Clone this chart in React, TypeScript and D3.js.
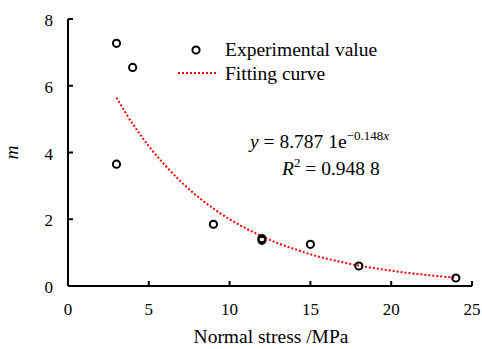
import React from "react";
import * as d3 from "d3";

const stressX = [3, 4, 3, 9, 12, 12, 15, 18, 24];
const mValues = [7.27, 6.55, 3.65, 1.85, 1.42, 1.37, 1.25, 0.6, 0.24];
const curveX = [3, 4, 5, 6, 7, 8, 9, 10, 11, 12, 13, 14, 15, 16, 17, 18, 19, 20, 21, 22, 23, 24];
const curveY = [5.64, 4.86, 4.19, 3.62, 3.12, 2.69, 2.32, 2.0, 1.73, 1.49, 1.28, 1.11, 0.95, 0.82, 0.71, 0.61, 0.53, 0.46, 0.39, 0.34, 0.29, 0.25];
const xTicks = [0, 5, 10, 15, 20, 25];
const yTicks = [0, 2, 4, 6, 8];

const FONT = "Liberation Serif, Times New Roman, serif";

export default function App() {
  const W = 482, H = 349;
  const x = d3.scaleLinear().domain([0, 25]).range([68, 472]);
  const y = d3.scaleLinear().domain([0, 8]).range([286, 19]);
  const line = d3
    .line<number>()
    .x((_, i) => x(curveX[i]))
    .y((d) => y(d))
    .curve(d3.curveCatmullRom);
  return (
    <svg width={W} height={H} style={{ position: "absolute", left: 0, top: 0, background: "#fff", fontFamily: FONT }}>
      {/* axes */}
      <line x1={x(0)} x2={x(25)} y1={y(0)} y2={y(0)} stroke="#000" strokeWidth={2} />
      <line x1={x(0)} x2={x(0)} y1={y(0)} y2={y(8)} stroke="#000" strokeWidth={2} />
      {xTicks.map((t) => (
        <g key={"x" + t}>
          <line x1={x(t)} x2={x(t)} y1={y(0)} y2={y(0) - 5} stroke="#000" strokeWidth={2} />
          <text x={x(t)} y={y(0) + 29} textAnchor="middle" fontSize={17} fontFamily={FONT}>{t}</text>
        </g>
      ))}
      {yTicks.map((t) => (
        <g key={"y" + t}>
          <line x1={x(0)} x2={x(0) + 5} y1={y(t)} y2={y(t)} stroke="#000" strokeWidth={2} />
          <text x={x(0) - 15} y={y(t) + 7} textAnchor="end" fontSize={17} fontFamily={FONT}>{t}</text>
        </g>
      ))}
      {/* fitting curve */}
      <path d={line(curveY) || ""} fill="none" stroke="#ff0000" strokeWidth={2} strokeDasharray="2,2" />
      {/* points */}
      {mValues.map((v, i) => (
        <circle key={i} cx={x(stressX[i])} cy={y(v)} r={3.6} fill="none" stroke="#000" strokeWidth={2} />
      ))}
      {/* legend */}
      <circle cx={196} cy={50} r={3.6} fill="none" stroke="#000" strokeWidth={2} />
      <text x={225} y={56} fontSize={19.5} fontFamily={FONT}>Experimental value</text>
      <line x1={178} x2={217} y1={73} y2={73} stroke="#ff0000" strokeWidth={2} strokeDasharray="2,2" />
      <text x={225} y={80} fontSize={19.5} fontFamily={FONT}>Fitting curve</text>
      {/* equation */}
      <text x={250} y={148} fontSize={19.5} fontFamily={FONT}>
        <tspan fontStyle="italic">y</tspan>
        <tspan> = 8.787 1e</tspan>
        <tspan fontSize={13} dy={-8}>−0.148</tspan>
        <tspan fontSize={13} fontStyle="italic">x</tspan>
      </text>
      <text x={282} y={175} fontSize={19.5} fontFamily={FONT}>
        <tspan fontStyle="italic">R</tspan>
        <tspan fontSize={13} dy={-8}>2</tspan>
        <tspan dy={8}> = 0.948 8</tspan>
      </text>
      {/* axis titles */}
      <text x={271} y={343} textAnchor="middle" fontSize={19.5} fontFamily={FONT}>Normal stress /MPa</text>
      <text transform={`translate(18,${y(4)}) rotate(-90)`} textAnchor="middle" fontSize={19.5} fontStyle="italic" fontFamily={FONT}>m</text>
    </svg>
  );
}
